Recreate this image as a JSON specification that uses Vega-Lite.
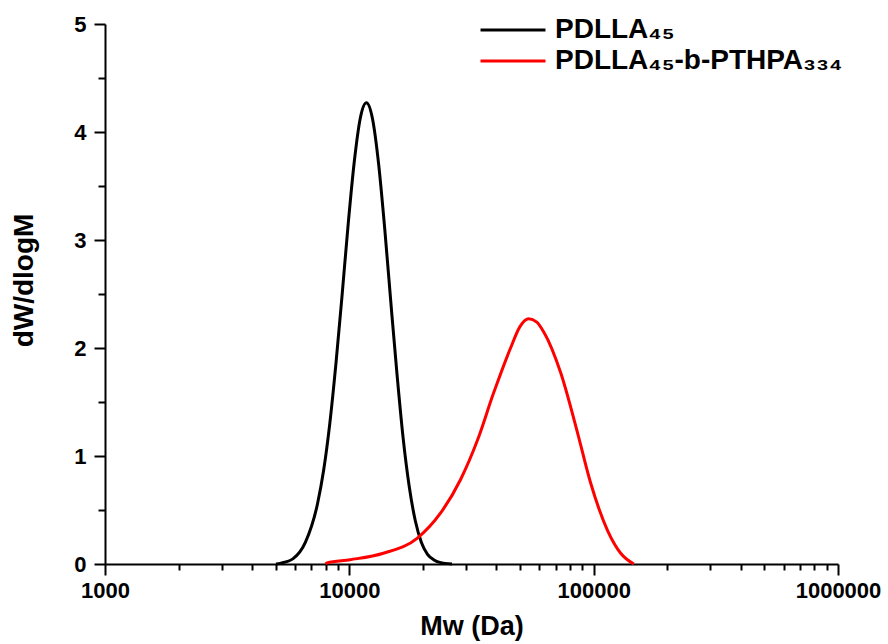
{
  "$schema": "https://vega.github.io/schema/vega-lite/v6.json",
  "width": 733,
  "height": 540,
  "autosize": {"type": "none"},
  "padding": {"left": 105, "top": 24, "right": 50, "bottom": 80},
  "background": "white",
  "config": {"view": {"stroke": null}, "font": "Liberation Sans"},
  "data": {
    "values": [
      {"series": "PDLLA₄₅", "M": 5012, "w": 0},
      {"series": "PDLLA₄₅", "M": 5248, "w": 0.008},
      {"series": "PDLLA₄₅", "M": 5888, "w": 0.05},
      {"series": "PDLLA₄₅", "M": 6607, "w": 0.2},
      {"series": "PDLLA₄₅", "M": 7413, "w": 0.56},
      {"series": "PDLLA₄₅", "M": 7852, "w": 0.87},
      {"series": "PDLLA₄₅", "M": 8318, "w": 1.3},
      {"series": "PDLLA₄₅", "M": 8810, "w": 1.85},
      {"series": "PDLLA₄₅", "M": 9333, "w": 2.48},
      {"series": "PDLLA₄₅", "M": 9886, "w": 3.14},
      {"series": "PDLLA₄₅", "M": 10471, "w": 3.72},
      {"series": "PDLLA₄₅", "M": 11092, "w": 4.13},
      {"series": "PDLLA₄₅", "M": 11749, "w": 4.27},
      {"series": "PDLLA₄₅", "M": 12445, "w": 4.12},
      {"series": "PDLLA₄₅", "M": 13183, "w": 3.7},
      {"series": "PDLLA₄₅", "M": 13964, "w": 3.1},
      {"series": "PDLLA₄₅", "M": 14791, "w": 2.42},
      {"series": "PDLLA₄₅", "M": 15668, "w": 1.76},
      {"series": "PDLLA₄₅", "M": 16596, "w": 1.17},
      {"series": "PDLLA₄₅", "M": 17579, "w": 0.72},
      {"series": "PDLLA₄₅", "M": 18621, "w": 0.4},
      {"series": "PDLLA₄₅", "M": 19724, "w": 0.2},
      {"series": "PDLLA₄₅", "M": 20893, "w": 0.09},
      {"series": "PDLLA₄₅", "M": 22131, "w": 0.04},
      {"series": "PDLLA₄₅", "M": 23442, "w": 0.015},
      {"series": "PDLLA₄₅", "M": 26303, "w": 0},
      {"series": "PDLLA₄₅-b-PTHPA₃₃₄", "M": 8000, "w": 0},
      {"series": "PDLLA₄₅-b-PTHPA₃₃₄", "M": 8100, "w": 0.01},
      {"series": "PDLLA₄₅-b-PTHPA₃₃₄", "M": 10090, "w": 0.04},
      {"series": "PDLLA₄₅-b-PTHPA₃₃₄", "M": 13780, "w": 0.1},
      {"series": "PDLLA₄₅-b-PTHPA₃₃₄", "M": 19000, "w": 0.24},
      {"series": "PDLLA₄₅-b-PTHPA₃₃₄", "M": 23600, "w": 0.47},
      {"series": "PDLLA₄₅-b-PTHPA₃₃₄", "M": 28500, "w": 0.78},
      {"series": "PDLLA₄₅-b-PTHPA₃₃₄", "M": 33500, "w": 1.15},
      {"series": "PDLLA₄₅-b-PTHPA₃₃₄", "M": 38900, "w": 1.58},
      {"series": "PDLLA₄₅-b-PTHPA₃₃₄", "M": 45700, "w": 2.0},
      {"series": "PDLLA₄₅-b-PTHPA₃₃₄", "M": 50000, "w": 2.2},
      {"series": "PDLLA₄₅-b-PTHPA₃₃₄", "M": 54200, "w": 2.27},
      {"series": "PDLLA₄₅-b-PTHPA₃₃₄", "M": 58500, "w": 2.24},
      {"series": "PDLLA₄₅-b-PTHPA₃₃₄", "M": 62400, "w": 2.15},
      {"series": "PDLLA₄₅-b-PTHPA₃₃₄", "M": 73300, "w": 1.77},
      {"series": "PDLLA₄₅-b-PTHPA₃₃₄", "M": 86000, "w": 1.21},
      {"series": "PDLLA₄₅-b-PTHPA₃₃₄", "M": 97200, "w": 0.75},
      {"series": "PDLLA₄₅-b-PTHPA₃₃₄", "M": 114000, "w": 0.31},
      {"series": "PDLLA₄₅-b-PTHPA₃₃₄", "M": 129000, "w": 0.1},
      {"series": "PDLLA₄₅-b-PTHPA₃₃₄", "M": 146000, "w": 0}
    ]
  },
  "mark": {"type": "line", "strokeWidth": 3, "interpolate": "monotone"},
  "encoding": {
    "x": {
      "field": "M", "type": "quantitative",
      "scale": {"type": "log", "domain": [1000, 1000000], "nice": false},
      "axis": {
        "values": [1000, 2000, 3000, 4000, 5000, 6000, 7000, 8000, 9000, 10000, 20000, 30000, 40000, 50000, 60000, 70000, 80000, 90000, 100000, 200000, 300000, 400000, 500000, 600000, 700000, 800000, 900000, 1000000],
        "format": "d",
        "labelExpr": "abs(log(datum.value)/LN10 - round(log(datum.value)/LN10)) < 0.01 ? datum.label : ''",
        "labelOverlap": false,
        "grid": false, "labelFont": "Liberation Sans", "labelFontSize": 22, "labelFontWeight": "bold",
        "labelColor": "black", "labelPadding": 5, "labelFlush": false,
        "tickSize": {"condition": {"test": "abs(log(datum.value)/LN10 - round(log(datum.value)/LN10)) < 0.01", "value": 11}, "value": 6},
        "tickWidth": 2, "tickColor": "black",
        "domainColor": "black", "domainWidth": 2,
        "title": "Mw (Da)", "titleFont": "Liberation Sans", "titleFontSize": 27, "titleFontWeight": "bold",
        "titleColor": "black", "titlePadding": 12
      }
    },
    "y": {
      "field": "w", "type": "quantitative",
      "scale": {"domain": [0, 5], "nice": false},
      "axis": {
        "values": [0, 0.5, 1, 1.5, 2, 2.5, 3, 3.5, 4, 4.5, 5], "grid": false,
        "labelExpr": "datum.value % 1 == 0 ? format(datum.value, 'd') : ''",
        "labelOverlap": false,
        "labelFont": "Liberation Sans", "labelFontSize": 22, "labelFontWeight": "bold",
        "labelColor": "black", "labelPadding": 8, "labelFlush": false,
        "tickSize": {"condition": {"test": "datum.value % 1 == 0", "value": 11}, "value": 7},
        "tickWidth": 2, "tickColor": "black",
        "domainColor": "black", "domainWidth": 2,
        "title": "dW/dlogM", "titleFont": "Liberation Sans", "titleFontSize": 28, "titleFontWeight": "bold",
        "titleColor": "black", "titleX": -67, "titleY": 256
      }
    },
    "color": {
      "field": "series", "type": "nominal",
      "scale": {"domain": ["PDLLA₄₅", "PDLLA₄₅-b-PTHPA₃₃₄"], "range": ["#000000", "#ff0000"]},
      "legend": {
        "title": null, "orient": "none", "legendX": 394, "legendY": -8,
        "symbolType": "M-3,0H3", "symbolSize": 469, "symbolStrokeWidth": 3,
        "labelFont": "Liberation Sans", "labelFontSize": 28, "labelFontWeight": "bold",
        "labelColor": "black", "labelOffset": 28, "labelLimit": 0, "rowPadding": 3
      }
    }
  }
}
